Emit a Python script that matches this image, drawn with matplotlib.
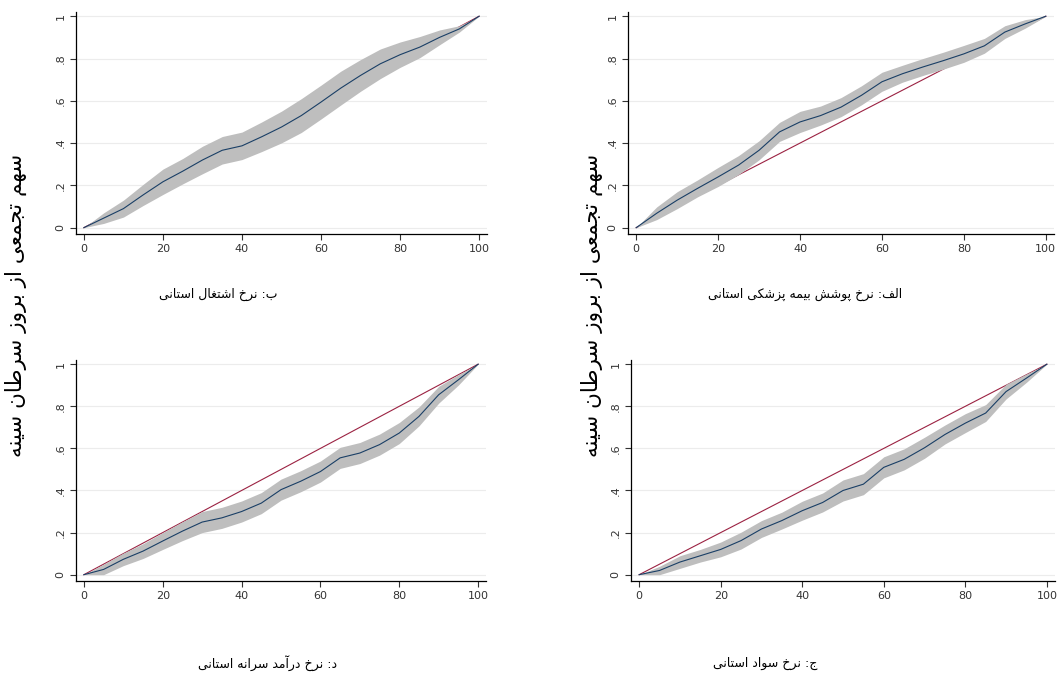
import numpy as np
from matplotlib import pyplot as plt

plt.rcParams.update({
    "font.family": ['DejaVu Sans'],
    "axes.linewidth": 0.9,
})

# ---- data ----
x_pct = [0, 5, 10, 15, 20, 25, 30, 35, 40, 45, 50, 55, 60, 65, 70, 75, 80, 85, 90, 95, 100]

# الف: insurance coverage (top right)
ins_y = [0, 0.068, 0.13, 0.186, 0.24, 0.296, 0.366, 0.453, 0.50, 0.53, 0.57,
         0.626, 0.69, 0.728, 0.76, 0.79, 0.822, 0.86, 0.925, 0.964, 1.0]
ins_w = [0, 0.03, 0.04, 0.04, 0.045, 0.045, 0.045, 0.045, 0.05, 0.045, 0.045,
         0.045, 0.045, 0.04, 0.04, 0.04, 0.04, 0.035, 0.03, 0.02, 0]

# ب: employment (top left)
emp_y = [0, 0.045, 0.09, 0.155, 0.217, 0.267, 0.32, 0.366, 0.387, 0.43, 0.476,
         0.53, 0.594, 0.66, 0.72, 0.775, 0.818, 0.854, 0.90, 0.94, 1.0]
emp_w = [0, 0.025, 0.04, 0.05, 0.06, 0.06, 0.065, 0.065, 0.065, 0.07, 0.075,
         0.08, 0.08, 0.08, 0.075, 0.07, 0.06, 0.05, 0.035, 0.015, 0]

# ج: literacy (bottom right)
lit_y = [0, 0.02, 0.06, 0.09, 0.12, 0.162, 0.217, 0.257, 0.304, 0.343, 0.40,
         0.43, 0.51, 0.548, 0.603, 0.666, 0.72, 0.768, 0.87, 0.934, 1.0]
lit_w = [0, 0.02, 0.03, 0.03, 0.035, 0.04, 0.04, 0.04, 0.045, 0.045, 0.05,
         0.05, 0.05, 0.05, 0.05, 0.045, 0.045, 0.04, 0.035, 0.02, 0]

# د: income per capita (bottom left)
inc_y = [0, 0.025, 0.073, 0.112, 0.16, 0.207, 0.25, 0.27, 0.30, 0.34, 0.404,
         0.444, 0.49, 0.555, 0.578, 0.618, 0.673, 0.752, 0.855, 0.926, 1.0]
inc_w = [0, 0.025, 0.03, 0.035, 0.04, 0.045, 0.05, 0.05, 0.05, 0.05, 0.05,
         0.05, 0.05, 0.05, 0.05, 0.05, 0.05, 0.045, 0.04, 0.025, 0]

eq_x = [0, 100]
eq_y = [0, 1]

captions = {
    "ins": "الف: نرخ پوشش بیمه پزشکی استانی",
    "emp": "ب: نرخ اشتغال استانی",
    "lit": "ج: نرخ سواد استانی",
    "inc": "د: نرخ درآمد سرانه استانی",
}
ylabel = "سهم تجمعی از بروز سرطان سینه"

y_ticks = [0, 0.2, 0.4, 0.6, 0.8, 1.0]
y_ticklabels = ["0", ".2", ".4", ".6", ".8", "1"]
x_ticks = [0, 20, 40, 60, 80, 100]

# ---- simple arabic/persian shaping (matplotlib has none) ----
FORMS = {
    'ا': ('\uFE8D', '\uFE8E', None, None),
    'آ': ('\uFE81', '\uFE82', None, None),
    'ب': ('\uFE8F', '\uFE90', '\uFE91', '\uFE92'),
    'پ': ('\uFB56', '\uFB57', '\uFB58', '\uFB59'),
    'ت': ('\uFE95', '\uFE96', '\uFE97', '\uFE98'),
    'ج': ('\uFE9D', '\uFE9E', '\uFE9F', '\uFEA0'),
    'خ': ('\uFEA5', '\uFEA6', '\uFEA7', '\uFEA8'),
    'د': ('\uFEA9', '\uFEAA', None, None),
    'ر': ('\uFEAD', '\uFEAE', None, None),
    'ز': ('\uFEAF', '\uFEB0', None, None),
    'س': ('\uFEB1', '\uFEB2', '\uFEB3', '\uFEB4'),
    'ش': ('\uFEB5', '\uFEB6', '\uFEB7', '\uFEB8'),
    'ط': ('\uFEC1', '\uFEC2', '\uFEC3', '\uFEC4'),
    'ع': ('\uFEC9', '\uFECA', '\uFECB', '\uFECC'),
    'غ': ('\uFECD', '\uFECE', '\uFECF', '\uFED0'),
    'ف': ('\uFED1', '\uFED2', '\uFED3', '\uFED4'),
    'ک': ('\uFB8E', '\uFB8F', '\uFB90', '\uFB91'),
    'ل': ('\uFEDD', '\uFEDE', '\uFEDF', '\uFEE0'),
    'م': ('\uFEE1', '\uFEE2', '\uFEE3', '\uFEE4'),
    'ن': ('\uFEE5', '\uFEE6', '\uFEE7', '\uFEE8'),
    'و': ('\uFEED', '\uFEEE', None, None),
    'ه': ('\uFEE9', '\uFEEA', '\uFEEB', '\uFEEC'),
    'ی': ('\uFBFC', '\uFBFD', '\uFBFE', '\uFBFF'),
}


def shape(s):
    out = []
    for i, c in enumerate(s):
        if c not in FORMS:
            out.append(c)
            continue
        iso, fin, ini, med = FORMS[c]
        prev = s[i - 1] if i > 0 else ''
        nxt = s[i + 1] if i + 1 < len(s) else ''
        pj = prev in FORMS and FORMS[prev][2] is not None
        nj = nxt in FORMS and ini is not None
        if pj and nj:
            out.append(med)
        elif pj:
            out.append(fin)
        elif nj:
            out.append(ini)
        else:
            out.append(iso)
    return ''.join(out)[::-1]


W, H = 1058, 689
fig = plt.figure(figsize=(W / 100, H / 100), dpi=100)


def add_ax(l, r, t, b):
    return fig.add_axes([l / W, 1 - b / H, (r - l) / W, (b - t) / H])


def panel(ax, y, w):
    y = np.array(y)
    w = np.array(w)
    ax.plot(eq_x, eq_y, color='#9b2242', lw=0.8, zorder=2)
    ax.fill_between(x_pct, y - w, y + w, color='#bebebe', lw=0, zorder=3)
    ax.plot(x_pct, y, color='#1a3f66', lw=0.8, zorder=4)
    ax.set_xlim(-2, 102)
    ax.set_ylim(-0.03, 1.02)
    ax.set_xticks(x_ticks)
    ax.set_yticks(y_ticks)
    ax.set_yticklabels(y_ticklabels, rotation=90, va='center')
    ax.tick_params(labelsize=8, length=4, width=0.8, colors='#333333')
    for t in y_ticks:
        ax.axhline(t, color='#ececec', lw=0.8, zorder=1)
    ax.spines['top'].set_visible(False)
    ax.spines['right'].set_visible(False)


ax_emp = add_ax(76, 487, 12, 234)
ax_ins = add_ax(628, 1054, 12, 234)
ax_inc = add_ax(76, 486, 360, 581)
ax_lit = add_ax(631, 1055, 360, 581)

panel(ax_emp, emp_y, emp_w)
panel(ax_ins, ins_y, ins_w)
panel(ax_inc, inc_y, inc_w)
panel(ax_lit, lit_y, lit_w)

cap_kw = dict(ha='center', va='center', fontsize=9, color='black')
fig.text(218 / W, 1 - 294 / H, shape(captions["emp"]), **cap_kw)
fig.text(805 / W, 1 - 294 / H, shape(captions["ins"]), **cap_kw)
fig.text(268 / W, 1 - 663 / H, shape(captions["inc"]), **cap_kw)
fig.text(765 / W, 1 - 663 / H, shape(captions["lit"]), **cap_kw)

lab_kw = dict(ha='center', va='center', rotation=90, fontsize=15.5, color='black')
fig.text(16 / W, 1 - 305 / H, shape(ylabel), **lab_kw)
fig.text(592 / W, 1 - 305 / H, shape(ylabel), **lab_kw)

fig.savefig('out.png', dpi=100)
